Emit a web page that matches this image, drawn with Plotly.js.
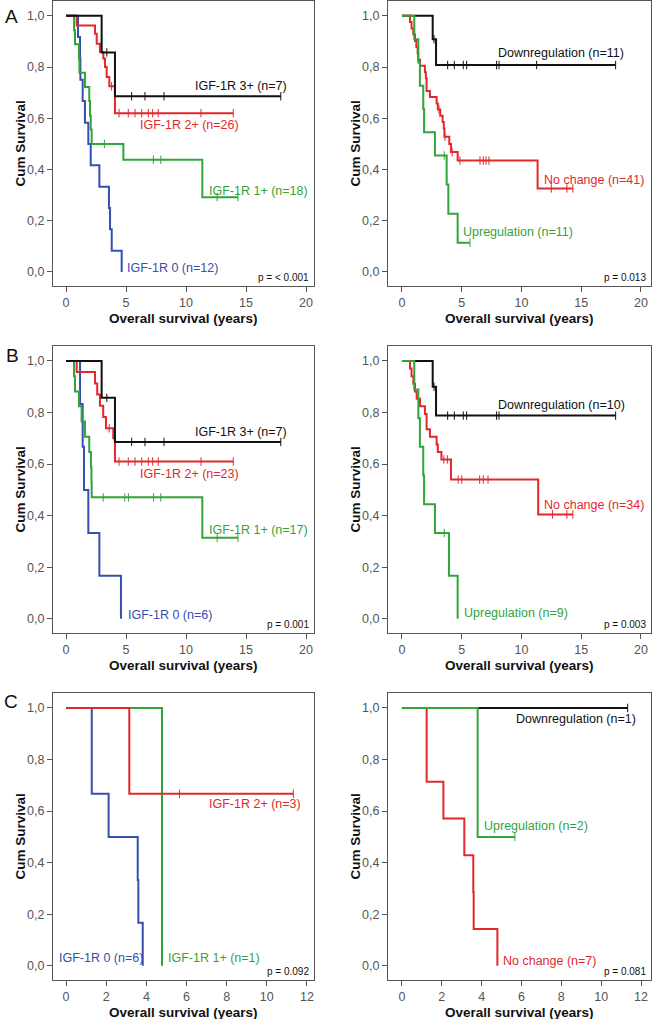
<!DOCTYPE html>
<html>
<head>
<meta charset="utf-8">
<script src="https://cdn.plot.ly/plotly-3.0.1.min.js"></script>
<style>
  html, body { margin: 0; padding: 0; background: #fff; }
  #chart { width: 655px; height: 1019px; }
</style>
</head>
<body>
<div id="chart"></div>
<script>
// Kaplan-Meier curves: events are [years, cum survival after the event], censored times listed apart

// Panel A - IGF-1R score
const aScore3 = [[2.97, 0.857], [4.08, 0.686]];
const aScore3Cens = [3.4, 5.47, 6.58, 8.17, 17.9];
const aScore2 = [[0.89, 0.962], [2.42, 0.93], [2.56, 0.891], [2.83, 0.859], [3.11, 0.833], [3.25, 0.8], [3.39, 0.761], [3.61, 0.725], [4.08, 0.62]];
const aScore2Cens = [3.8, 4.42, 5.19, 5.75, 6.31, 6.86, 7.22, 7.69, 11.25, 13.94];
const aScore1 = [[0.67, 0.944], [0.75, 0.889], [1.08, 0.833], [1.12, 0.778], [1.58, 0.722], [1.94, 0.667], [2.0, 0.611], [2.06, 0.556], [2.14, 0.5], [4.78, 0.438], [11.36, 0.292]];
const aScore1Cens = [3.2, 7.28, 7.9, 12.6, 14.33];
const aScore0 = [[1.0, 0.917], [1.17, 0.833], [1.2, 0.75], [1.39, 0.667], [1.58, 0.583], [1.86, 0.5], [2.06, 0.417], [2.78, 0.333], [3.58, 0.25], [3.67, 0.167], [3.81, 0.083], [4.64, 0]];
const aScore0Cens = [];

// Panel A - change in IGF-1R
const aDown = [[2.57, 0.909], [2.85, 0.808]];
const aDownCens = [2.68, 3.82, 4.38, 5.13, 5.41, 7.92, 8.12, 11.27, 17.88];
const aNoChange = [[0.67, 0.976], [0.8, 0.951], [0.95, 0.927], [1.09, 0.902], [1.2, 0.878], [1.31, 0.854], [1.35, 0.829], [1.51, 0.805], [1.92, 0.78], [2.0, 0.756], [2.06, 0.707], [2.34, 0.683], [2.9, 0.658], [3.0, 0.634], [3.2, 0.61], [3.4, 0.585], [3.5, 0.56], [3.55, 0.528], [3.96, 0.5], [4.1, 0.468], [4.66, 0.435], [11.35, 0.326]];
const aNoChangeCens = [3.1, 3.6, 4.2, 4.85, 6.53, 6.8, 7.03, 7.28, 12.5, 13.8, 14.3];
const aUp = [[1.03, 0.909], [1.37, 0.818], [1.5, 0.727], [1.78, 0.636], [1.85, 0.545], [2.76, 0.455], [3.74, 0.341], [3.88, 0.227], [4.66, 0.114]];
const aUpCens = [3.54, 5.69];

// Panel B - IGF-1R score
const bScore3 = [[2.97, 0.857], [4.08, 0.686]];
const bScore3Cens = [3.4, 5.47, 6.58, 8.17, 17.9];
const bScore2 = [[0.89, 0.957], [2.42, 0.913], [2.6, 0.87], [2.83, 0.826], [3.1, 0.783], [3.33, 0.739], [3.94, 0.7], [4.08, 0.61]];
const bScore2Cens = [3.6, 4.42, 5.19, 5.75, 6.31, 6.86, 7.22, 7.69, 11.25, 13.94];
const bScore1 = [[0.67, 0.941], [0.75, 0.882], [1.08, 0.824], [1.3, 0.765], [1.58, 0.706], [1.94, 0.647], [2.08, 0.588], [2.12, 0.529], [2.14, 0.471], [11.36, 0.314]];
const bScore1Cens = [3.1, 4.9, 5.2, 7.3, 7.9, 12.6, 14.33];
const bScore0 = [[1.17, 0.833], [1.39, 0.667], [1.5, 0.5], [1.86, 0.333], [2.78, 0.167], [4.58, 0]];
const bScore0Cens = [];

// Panel B - change in IGF-1R
const bDown = [[2.57, 0.9], [2.85, 0.788]];
const bDownCens = [2.68, 3.82, 4.38, 5.13, 5.41, 7.92, 8.12, 17.88];
const bNoChange = [[0.67, 0.971], [0.8, 0.941], [0.95, 0.912], [1.09, 0.882], [1.23, 0.853], [1.51, 0.824], [1.92, 0.794], [2.06, 0.735], [2.34, 0.706], [2.9, 0.676], [3.0, 0.647], [3.3, 0.618], [4.1, 0.54], [11.4, 0.405]];
const bNoChangeCens = [3.5, 3.8, 4.7, 5.0, 6.5, 6.8, 7.2, 12.6, 13.8, 14.3];
const bUp = [[1.03, 0.889], [1.37, 0.778], [1.5, 0.667], [1.78, 0.556], [1.85, 0.444], [2.76, 0.333], [3.93, 0.167], [4.66, 0]];
const bUpCens = [3.54];

// Panel C - IGF-1R score
const cScore2 = [[3.15, 0.667]];
const cScore2Cens = [5.65, 11.32];
const cScore1 = [[4.78, 0]];
const cScore1Cens = [];
const cScore0 = [[1.28, 0.667], [2.12, 0.5], [3.57, 0.333], [3.6, 0.167], [3.82, 0]];
const cScore0Cens = [];

// Panel C - change in IGF-1R
const cDown = [];
const cDownCens = [11.33];
const cNoChange = [[1.24, 0.714], [2.08, 0.571], [3.13, 0.429], [3.58, 0.286], [3.6, 0.143], [4.79, 0]];
const cNoChangeCens = [];
const cUp = [[3.8, 0.5]];
const cUpCens = [5.67];

const pValues = ["p = < 0.001", "p = 0.013", "p = 0.001", "p = 0.003", "p = 0.092", "p = 0.081"];
const yTicks = [0, 0.2, 0.4, 0.6, 0.8, 1.0];
const xTicksLong = [0, 5, 10, 15, 20];
const xTicksShort = [0, 2, 4, 6, 8, 10, 12];

const BLACK = "#111111";
const RED = "#e3282d";
const GREEN = "#33a33b";
const BLUE = "#3550ae";
const FONT = "Liberation Sans, Arial, sans-serif";

const W = 655, H = 1019;
const px = (x) => x / W;
const py = (y) => 1 - y / H;

// step line + censor ticks for one group
function kmTraces(events, cens, color, n) {
  const x = [0], y = [1];
  events.forEach(([t, s]) => { x.push(t); y.push(s); });
  const lastEvent = events.length ? events[events.length - 1][0] : 0;
  x.push(Math.max(lastEvent, ...cens));
  y.push(y[y.length - 1]);
  const survAt = (t) => {
    let s = 1;
    for (const [et, es] of events) if (et <= t) s = es;
    return s;
  };
  const ax = { xaxis: "x" + (n > 1 ? n : ""), yaxis: "y" + (n > 1 ? n : "") };
  return [
    { ...ax, x, y, type: "scatter", mode: "lines", line: { shape: "hv", color, width: 2 }, hoverinfo: "skip" },
    { ...ax, x: cens, y: cens.map(survAt), type: "scatter", mode: "markers",
      marker: { symbol: "line-ns", size: 6, color, line: { color, width: 1 } }, hoverinfo: "skip" },
  ];
}

const panels = [
  { curves: [[aScore0, aScore0Cens, BLUE], [aScore1, aScore1Cens, GREEN], [aScore2, aScore2Cens, RED], [aScore3, aScore3Cens, BLACK]] },
  { curves: [[aDown, aDownCens, BLACK], [aNoChange, aNoChangeCens, RED], [aUp, aUpCens, GREEN]] },
  { curves: [[bScore0, bScore0Cens, BLUE], [bScore1, bScore1Cens, GREEN], [bScore2, bScore2Cens, RED], [bScore3, bScore3Cens, BLACK]] },
  { curves: [[bDown, bDownCens, BLACK], [bNoChange, bNoChangeCens, RED], [bUp, bUpCens, GREEN]] },
  { curves: [[cScore0, cScore0Cens, BLUE], [cScore1, cScore1Cens, GREEN], [cScore2, cScore2Cens, RED]] },
  { curves: [[cDown, cDownCens, BLACK], [cNoChange, cNoChangeCens, RED], [cUp, cUpCens, GREEN]] },
];

// frame boxes in page pixels: [left, right], [top, bottom]
const cols = [[53, 314], [388, 651]];
const rows = [[1, 286], [346, 633], [693, 980]];
const xRanges = [[-1.083, 20.667], [-1.17, 20.84], [-1.083, 20.667], [-1.17, 20.84], [-0.65, 12.35], [-0.7, 12.5]];

const traces = [];
panels.forEach((p, i) => p.curves.forEach(([ev, ce, col]) => traces.push(...kmTraces(ev, ce, col, i + 1))));

const layout = {
  width: W, height: H,
  margin: { l: 0, r: 0, t: 0, b: 0 },
  paper_bgcolor: "#fff", plot_bgcolor: "#fff",
  showlegend: false, hovermode: false,
  separators: ",.",
  font: { family: FONT, color: "#444" },
  annotations: [],
};

const axisBase = {
  showline: true, mirror: true, linecolor: "#555", linewidth: 1,
  ticks: "outside", ticklen: 5, tickcolor: "#555", tickwidth: 1,
  showgrid: false, zeroline: false, fixedrange: true,
  tickfont: { family: FONT, size: 12.5, color: "#555" },
};

panels.forEach((p, i) => {
  const n = i + 1, sfx = n > 1 ? n : "";
  const [l, r] = cols[i % 2];
  const [t, b] = rows[Math.floor(i / 2)];
  layout["xaxis" + sfx] = {
    ...axisBase, anchor: "y" + sfx, domain: [px(l), px(r)], range: xRanges[i],
    tickvals: i < 4 ? xTicksLong : xTicksShort,
  };
  layout["yaxis" + sfx] = {
    ...axisBase, anchor: "x" + sfx, domain: [py(b), py(t)], range: [-0.055, 1.058],
    tickvals: yTicks, tickformat: ".1f",
  };
  // axis titles
  layout.annotations.push({
    xref: "paper", yref: "paper", x: px((l + r) / 2), y: py(b + 32), text: "Overall survival (years)",
    showarrow: false, font: { family: FONT, size: 13.5, color: "#111", weight: "bold" }, xanchor: "center", yanchor: "middle",
  });
  layout.annotations.push({
    xref: "paper", yref: "paper", x: px(i % 2 ? 355 : 20), y: py((t + b) / 2), text: "Cum Survival", textangle: -90,
    showarrow: false, font: { family: FONT, size: 13.5, color: "#111", weight: "bold" }, xanchor: "center", yanchor: "middle",
  });
  layout.annotations.push({
    xref: "paper", yref: "paper", x: px(r - 3), y: py(b - 9), text: pValues[i],
    showarrow: false, font: { family: FONT, size: 10, color: "#111" }, xanchor: "right", yanchor: "middle",
  });
});

// panel letters
[["A", 11, 16], ["B", 12, 355], ["C", 11, 701]].forEach(([txt, x, y]) => {
  layout.annotations.push({
    xref: "paper", yref: "paper", x: px(x), y: py(y), text: txt, showarrow: false,
    font: { family: FONT, size: 19, color: "#111" }, xanchor: "center", yanchor: "middle",
  });
});

// curve labels: text, colour, left edge and middle in page pixels
const curveLabels = [
  ["IGF-1R 3+ (n=7)", BLACK, 193, 86], ["IGF-1R 2+ (n=26)", RED, 138, 125],
  ["IGF-1R 1+ (n=18)", GREEN, 207, 191], ["IGF-1R 0 (n=12)", BLUE, 125, 268],
  ["Downregulation (n=11)", BLACK, 496, 53], ["No change (n=41)", RED, 542, 180],
  ["Upregulation (n=11)", GREEN, 461, 232],
  ["IGF-1R 3+ (n=7)", BLACK, 193, 432], ["IGF-1R 2+ (n=23)", RED, 138, 474],
  ["IGF-1R 1+ (n=17)", GREEN, 207, 530], ["IGF-1R 0 (n=6)", BLUE, 126, 615],
  ["Downregulation (n=10)", BLACK, 496, 405], ["No change (n=34)", RED, 542, 505],
  ["Upregulation (n=9)", GREEN, 462, 613],
  ["IGF-1R 2+ (n=3)", RED, 207, 804], ["IGF-1R 0 (n=6)", BLUE, 57, 958],
  ["IGF-1R 1+ (n=1)", GREEN, 166, 958],
  ["Downregulation (n=1)", BLACK, 514, 719], ["Upregulation (n=2)", GREEN, 482, 826],
  ["No change (n=7)", RED, 501, 961],
];
curveLabels.forEach(([txt, col, x, y]) => {
  layout.annotations.push({
    xref: "paper", yref: "paper", x: px(x), y: py(y), text: txt, showarrow: false,
    font: { family: FONT, size: 12.5, color: col }, xanchor: "left", yanchor: "middle",
  });
});

Plotly.newPlot("chart", traces, layout, { staticPlot: true });
</script>
</body>
</html>
